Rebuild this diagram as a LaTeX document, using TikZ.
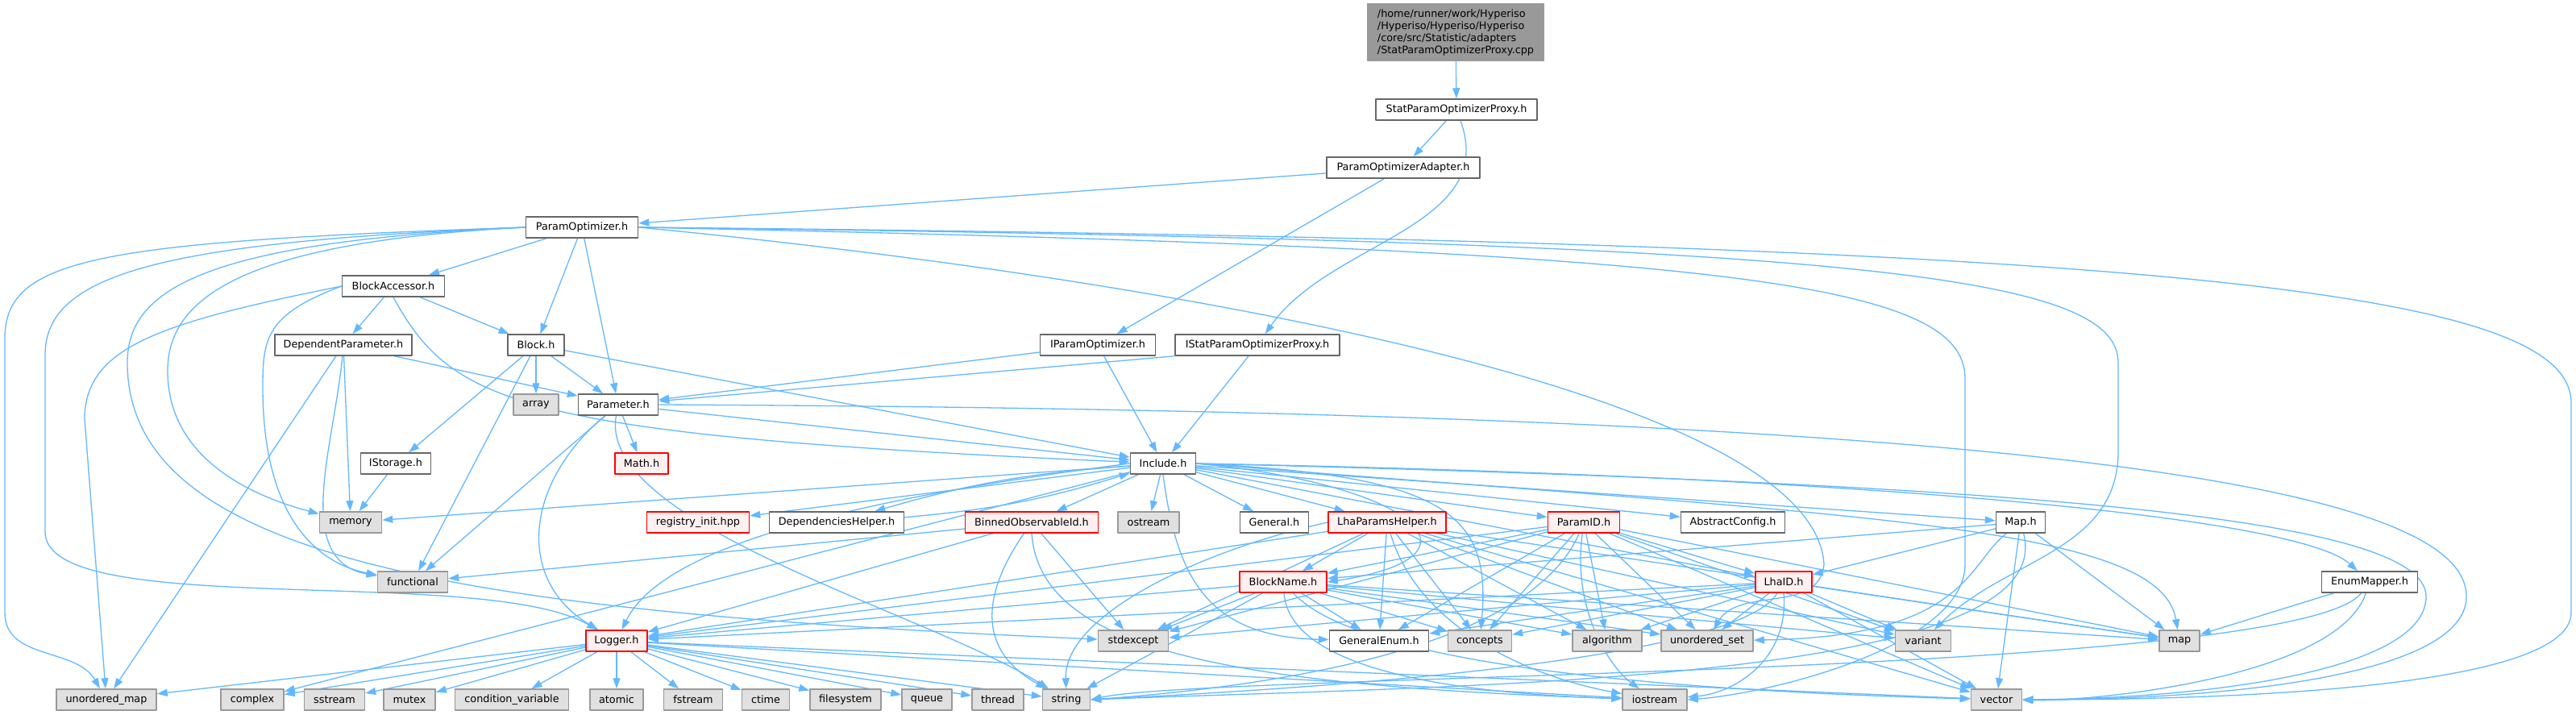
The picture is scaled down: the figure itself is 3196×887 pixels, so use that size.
\documentclass[tikz,border=0pt]{standalone}
\usepackage{fontspec}
\setmainfont{DejaVu Sans}
\usepackage{tikz}
\usetikzlibrary{arrows.meta,backgrounds}

\definecolor{edgeblue}{HTML}{63B8FF}
\definecolor{sysfill}{HTML}{E0E0E0}
\definecolor{sysline}{HTML}{999999}
\definecolor{hdrline}{HTML}{666666}
\definecolor{redfill}{HTML}{FFF0F0}
\definecolor{rootfill}{HTML}{999999}

\begin{document}
\begin{tikzpicture}[x=0.5pt,y=-0.5pt,line join=round,
		>={Triangle[length=6.5pt,width=4.5pt]},
		hdr/.style={draw=hdrline,fill=white,line width=0.75pt,minimum height=13pt,inner sep=1pt,
			font=\fontsize{6.4}{7.5}\selectfont},
		sys/.style={hdr,draw=sysline,fill=sysfill},
		trunc/.style={hdr,draw=red,fill=redfill},
		mainfile/.style={hdr,fill=rootfill,draw=sysline,align=left},
		inc/.style={->,draw=edgeblue,line width=0.65pt}]
	\useasboundingbox (0,0) rectangle (3196,887);

	% upper part
	\node[mainfile,minimum width=109.5pt,minimum height=35pt] (root) at (1806,40)
		{/home/runner/work/Hyperiso\\/Hyperiso/Hyperiso/Hyperiso\\/core/src/Statistic/adapters\\/StatParamOptimizerProxy.cpp};
	\node[hdr,minimum width=100pt] (SPOP) at (1807,136) {StatParamOptimizerProxy.h};
	\node[hdr,minimum width=95pt] (POA) at (1741,208) {ParamOptimizerAdapter.h};
	\node[hdr,minimum width=69.5pt] (PO) at (722,282) {ParamOptimizer.h};
	\node[hdr,minimum width=63.5pt] (BA) at (488,355) {BlockAccessor.h};
	\node[hdr,minimum width=85pt] (DP) at (426,428) {DependentParameter.h};
	\node[hdr,minimum width=35pt] (Blk) at (665,428) {Block.h};
	\node[hdr,minimum width=71.5pt] (IPO) at (1362,428) {IParamOptimizer.h};
	\node[hdr,minimum width=102pt] (ISPOP) at (1560,428) {IStatParamOptimizerProxy.h};
	\node[sys,minimum width=28pt] (arr) at (665,502) {array};
	\node[hdr,minimum width=49.5pt] (Par) at (767,502) {Parameter.h};
	\node[hdr,minimum width=43.5pt] (IStor) at (491,575) {IStorage.h};
	\node[trunc,minimum width=33pt] (Math) at (796,575) {Math.h};
	\node[hdr,minimum width=40.5pt] (Inc) at (1443,575) {Include.h};

	% row under Include.h
	\node[sys,minimum width=38.5pt] (mem) at (435,648) {memory};
	\node[trunc,minimum width=63.5pt] (reg) at (866,648) {registry\_init.hpp};
	\node[hdr,minimum width=83.5pt] (DepH) at (1038,648) {DependenciesHelper.h};
	\node[trunc,minimum width=82.5pt] (BOI) at (1280,648) {BinnedObservableId.h};
	\node[sys,minimum width=38pt] (ostr) at (1425,648) {ostream};
	\node[hdr,minimum width=42.5pt] (Gen) at (1581,648) {General.h};
	\node[trunc,minimum width=73pt] (LPH) at (1721,648) {LhaParamsHelper.h};
	\node[trunc,minimum width=44.5pt] (PID) at (1965,648) {ParamID.h};
	\node[hdr,minimum width=64.5pt] (AC) at (2150,648) {AbstractConfig.h};
	\node[hdr,minimum width=30.5pt] (MapH) at (2507,648) {Map.h};
	\node[sys,minimum width=43.5pt] (fun) at (512,722) {functional};
	\node[trunc,minimum width=54pt] (BN) at (1592,722) {BlockName.h};
	\node[trunc,minimum width=35pt] (LID) at (2213,722) {LhaID.h};
	\node[hdr,minimum width=59.5pt] (EM) at (2940,722) {EnumMapper.h};
	\node[trunc,minimum width=38pt] (Log) at (765,795) {Logger.h};
	\node[sys,minimum width=43.5pt] (stdx) at (1406,795) {stdexcept};
	\node[hdr,minimum width=61.5pt] (GE) at (1711,795) {GeneralEnum.h};
	\node[sys,minimum width=39.5pt] (conc) at (1836,795) {concepts};
	\node[sys,minimum width=43pt] (algo) at (1994,795) {algorithm};
	\node[sys,minimum width=57pt] (uset) at (2118,795) {unordered\_set};
	\node[sys,minimum width=34.5pt] (var) at (2386,795) {variant};
	\node[sys,minimum width=25pt] (map) at (2704,795) {map};

	% bottom row
	\node[sys,minimum width=62pt] (umap) at (132,868) {unordered\_map};
	\node[sys,minimum width=39pt] (cplx) at (313,868) {complex};
	\node[sys,minimum width=37.5pt] (sstr) at (415,868) {sstream};
	\node[sys,minimum width=32pt] (mtx) at (508,868) {mutex};
	\node[sys,minimum width=70.5pt] (cv) at (635,868) {condition\_variable};
	\node[sys,minimum width=33pt] (atom) at (765,868) {atomic};
	\node[sys,minimum width=36.5pt] (fstr) at (860,868) {fstream};
	\node[sys,minimum width=29.5pt] (ctm) at (950,868) {ctime};
	\node[sys,minimum width=44pt] (fsys) at (1049,868) {filesystem};
	\node[sys,minimum width=31pt] (que) at (1150,868) {queue};
	\node[sys,minimum width=32pt] (thr) at (1238,868) {thread};
	\node[sys,minimum width=29.5pt] (str) at (1323,868) {string};
	\node[sys,minimum width=40pt] (ios) at (2053,868) {iostream};
	\node[sys,minimum width=31.5pt] (vec) at (2477,868) {vector};

	\begin{scope}[on background layer]
	% adapter part
	\draw[inc] (root) -- (SPOP);
	\draw[inc] (SPOP) -- (POA);
	\draw[inc] (SPOP) to[out=-70,in=55] (ISPOP);
	\draw[inc] (POA) -- (PO);
	\draw[inc] (POA) -- (IPO);
	\draw[inc] (IPO) -- (Par);
	\draw[inc] (IPO) -- (Inc);
	\draw[inc] (ISPOP.south west) -- (Par);
	\draw[inc] (ISPOP) -- (Inc);

	% ParamOptimizer.h
	\draw[inc] (PO) -- (BA);
	\draw[inc] (PO) -- (Blk);
	\draw[inc] (PO) -- (Par);
	\draw[inc] (PO.west) .. controls (120,300) and (6,320) .. (6,420) -- (6,760) to[out=-90,in=120] (umap);
	\draw[inc] (PO.west) .. controls (200,300) and (56,340) .. (56,440) -- (56,660) .. controls (56,770) and (600,700) .. (Log);
	\draw[inc] (PO.west) .. controls (250,300) and (158,360) .. (158,450) .. controls (158,700) and (600,760) .. (stdx);
	\draw[inc] (PO.west) .. controls (300,300) and (208,370) .. (208,460) to[out=-90,in=165] (mem);
	\draw[inc] (PO.east) .. controls (2700,300) and (3190,360) .. (3190,500) -- (3190,760) .. controls (3190,850) and (2800,868) .. (vec.east);
	\draw[inc] (PO.east) .. controls (2300,300) and (2628,340) .. (2628,450) -- (2628,560) to[out=-90,in=45] (var);
	\draw[inc] (PO.east) .. controls (2150,310) and (2438,350) .. (2438,470) -- (2438,700) .. controls (2438,800) and (2200,860) .. (ios.east);
	\draw[inc] (PO.east) .. controls (1400,340) and (2250,480) .. (2263,700) to[out=-95,in=60] (uset);

	% BlockAccessor.h, DependentParameter.h, Block.h
	\draw[inc] (BA) -- (DP);
	\draw[inc] (BA) -- (Blk);
	\draw[inc] (BA.west) .. controls (200,400) and (105,430) .. (105,520) -- (umap);
	\draw[inc] (BA.west) .. controls (330,390) and (326,420) .. (326,480) .. controls (326,650) and (400,700) .. (fun);
	\draw[inc] (BA.south) .. controls (560,500) and (640,540) .. (Inc);
	\draw[inc] (DP) -- (Par);
	\draw[inc] (DP) -- (mem);
	\draw[inc] (DP) -- (umap);
	\draw[inc] (DP) to[out=-95,in=170] (fun);
	\draw[inc] (Blk) -- (arr);
	\draw[inc] (Blk) -- (Par);
	\draw[inc] (Blk) -- (IStor);
	\draw[inc] (Blk) -- (fun);
	\draw[inc] (Blk) -- (Inc);
	\draw[inc] (IStor) -- (mem);

	% Parameter.h
	\draw[inc] (Par) -- (Math);
	\draw[inc] (Par) -- (fun);
	\draw[inc] (Par) -- (Inc);
	\draw[inc] (Par) .. controls (650,600) and (640,720) .. (Log);
	\draw[inc] (Par) .. controls (740,650) and (1150,760) .. (str);
	\draw[inc] (Par.east) .. controls (2500,510) and (3060,600) .. (3060,740) .. controls (3060,840) and (2750,868) .. (vec.east);

	% Include.h
	\draw[inc] (Inc) -- (mem);
	\draw[inc] (Inc) -- (reg);
	\draw[inc] (Inc) to[bend right=6] (DepH);
	\draw[inc] (DepH) to[bend right=6] (Inc);
	\draw[inc] (Inc) -- (BOI);
	\draw[inc] (Inc) -- (ostr);
	\draw[inc] (Inc) -- (Gen);
	\draw[inc] (Inc) -- (LPH);
	\draw[inc] (Inc) -- (PID);
	\draw[inc] (Inc) -- (AC);
	\draw[inc] (Inc) -- (MapH);
	\draw[inc] (Inc) -- (LID);
	\draw[inc] (Inc) -- (cplx);
	\draw[inc] (Inc.west) .. controls (1050,620) and (820,680) .. (Log);
	\draw[inc] (Inc.east) .. controls (1750,600) and (1860,690) .. (BN.east);
	\draw[inc] (Inc.south) .. controls (1460,720) and (1500,790) .. (GE);
	\draw[inc] (Inc.east) .. controls (1800,590) and (1850,640) .. (conc);
	\draw[inc] (Inc.east) .. controls (2300,640) and (2680,650) .. (map);
	\draw[inc] (Inc.east) .. controls (2300,590) and (2850,640) .. (EM);
	\draw[inc] (Inc.east) .. controls (2500,600) and (3010,640) .. (3010,740) .. controls (3010,830) and (2750,866) .. (vec.east);

	% BinnedObservableId.h
	\draw[inc] (BOI) -- (fun);
	\draw[inc] (BOI) -- (Log);
	\draw[inc] (BOI) -- (stdx);
	\draw[inc] (BOI) .. controls (1230,720) and (1200,800) .. (str);
	\draw[inc] (BOI.south) .. controls (1290,800) and (1500,850) .. (ios);

	% LhaParamsHelper.h
	\draw[inc] (LPH) -- (BN);
	\draw[inc] (LPH) -- (Log);
	\draw[inc] (LPH) -- (stdx);
	\draw[inc] (LPH.west) .. controls (1500,680) and (1320,760) .. (str);
	\draw[inc] (LPH) -- (GE);
	\draw[inc] (LPH) -- (conc);
	\draw[inc] (LPH) -- (algo);
	\draw[inc] (LPH) -- (uset);
	\draw[inc] (LPH) -- (var);
	\draw[inc] (LPH) -- (map);
	\draw[inc] (LPH) -- (vec);
	\draw[inc] (LPH) .. controls (1760,780) and (1900,840) .. (ios);

	% ParamID.h
	\draw[inc] (PID) -- (LID);
	\draw[inc] (PID) -- (BN);
	\draw[inc] (PID) -- (Log);
	\draw[inc] (PID) -- (stdx);
	\draw[inc] (PID) -- (GE);
	\draw[inc] (PID) -- (conc);
	\draw[inc] (PID) -- (algo);
	\draw[inc] (PID) -- (uset);
	\draw[inc] (PID) -- (var);
	\draw[inc] (PID) -- (map);
	\draw[inc] (PID) -- (vec);
	\draw[inc] (PID) .. controls (1900,800) and (1600,850) .. (str.east);
	\draw[inc] (PID) .. controls (1950,760) and (2000,830) .. (ios);

	% LhaID.h
	\draw[inc] (LID) -- (Log);
	\draw[inc] (LID) -- (stdx);
	\draw[inc] (LID) -- (GE);
	\draw[inc] (LID) -- (conc);
	\draw[inc] (LID) -- (algo);
	\draw[inc] (LID) -- (uset);
	\draw[inc] (LID) -- (var);
	\draw[inc] (LID) -- (map);
	\draw[inc] (LID) -- (vec);
	\draw[inc] (LID) .. controls (2150,830) and (1500,860) .. (str.east);
	\draw[inc] (LID.south) .. controls (2220,820) and (2150,860) .. (ios);

	% BlockName.h
	\draw[inc] (BN) -- (Log);
	\draw[inc] (BN) -- (stdx);
	\draw[inc] (BN) -- (GE);
	\draw[inc] (BN) -- (conc);
	\draw[inc] (BN) -- (algo);
	\draw[inc] (BN) -- (uset);
	\draw[inc] (BN) -- (var);
	\draw[inc] (BN) -- (map);
	\draw[inc] (BN) -- (str);
	\draw[inc] (BN) .. controls (1600,830) and (1800,860) .. (ios);
	\draw[inc] (BN) .. controls (1700,840) and (2200,860) .. (vec);

	% Map.h, EnumMapper.h
	\draw[inc] (MapH) -- (LID);
	\draw[inc] (MapH) -- (BN);
	\draw[inc] (MapH) .. controls (2440,700) and (2440,790) .. (uset);
	\draw[inc] (MapH) -- (map);
	\draw[inc] (MapH) -- (vec);
	\draw[inc] (MapH) .. controls (2560,850) and (1800,850) .. (str.east);
	\draw[inc] (EM) -- (map);
	\draw[inc] (EM) .. controls (2900,840) and (2600,870) .. (vec);
	\draw[inc] (EM) .. controls (2850,840) and (1500,835) .. (str.east);

	% Logger.h
	\draw[inc] (Log) -- (umap);
	\draw[inc] (Log) -- (cplx);
	\draw[inc] (Log) -- (sstr);
	\draw[inc] (Log) -- (mtx);
	\draw[inc] (Log) -- (cv);
	\draw[inc] (Log) -- (atom);
	\draw[inc] (Log) -- (fstr);
	\draw[inc] (Log) -- (ctm);
	\draw[inc] (Log) -- (fsys);
	\draw[inc] (Log) -- (que);
	\draw[inc] (Log) -- (thr);
	\draw[inc] (Log) -- (str);
	\draw[inc] (Log) -- (ios);
	\draw[inc] (Log) -- (vec);
	\end{scope}
\end{tikzpicture}
\end{document}
